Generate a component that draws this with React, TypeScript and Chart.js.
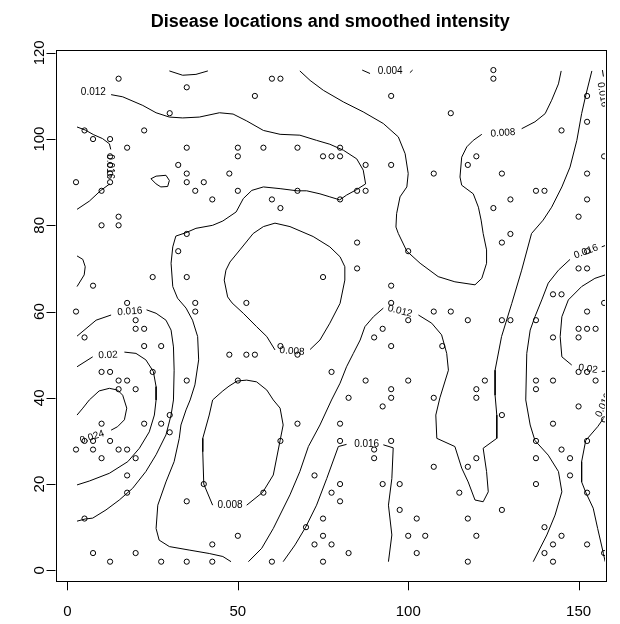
import React, { useEffect, useRef } from "react";
import { Chart, registerables } from "chart.js";
Chart.register(...registerables);

const TITLE = "Disease locations and smoothed intensity";
const X_TICKS = [0, 50, 100, 150];
const Y_TICKS = [0, 20, 40, 60, 80, 100, 120];
const X_RANGE = [-3.52, 157.76];
const Y_RANGE = [-2.55, 120.56];

// Case locations
const caseX = [
  15, 35, 30, 22.5, 5, 7.5, 12.5, 17.5, 35, 12.5, 12.5, 12.5, 12.5, 2.5, 10, 32.5, 35, 35, 40, 37.5, 42.5, 47.5, 15, 15, 10,
  60, 62.5, 55, 95, 50, 50, 57.5, 67.5, 80, 75, 77.5, 80, 87.5, 95, 50, 67.5, 60, 62.5, 80, 85, 87.5,
  125, 125, 112.5, 152.5, 152.5, 145, 157.5, 120, 117.5, 107.5, 127.5, 152.5, 137.5, 140, 130, 152.5, 125, 150,
  35, 32.5, 25, 35, 7.5, 17.5, 37.5, 37.5, 2.5, 20, 20, 22.5, 5, 22.5, 27.5, 47.5, 10, 12.5, 25, 35, 15, 17.5, 15, 20, 50,
  85, 85, 75, 52.5, 95, 95, 100, 100, 92.5, 90, 95, 62.5, 67.5, 52.5, 55, 77.5, 87.5, 100, 82.5, 95, 95,
  130, 127.5, 152.5, 150, 152.5, 142.5, 145, 157.5, 107.5, 112.5, 117.5, 127.5, 130, 137.5, 152.5, 150, 152.5, 155, 150, 142.5, 110, 150, 152.5, 122.5, 137.5, 142.5, 155, 120, 137.5, 107.5, 120,
  30, 10, 22.5, 27.5, 30, 5, 7.5, 12.5, 2.5, 7.5, 15, 17.5, 10, 20, 17.5, 17.5, 5, 35, 40, 42.5, 7.5, 20, 12.5, 27.5, 35, 42.5,
  92.5, 67.5, 80, 62.5, 80, 95, 90, 90, 72.5, 80, 92.5, 97.5, 77.5, 57.5, 80, 97.5, 102.5, 75, 50, 70, 75, 72.5, 77.5, 100, 82.5, 102.5, 60, 75,
  150, 127.5, 157.5, 142.5, 152.5, 137.5, 145, 120, 137.5, 147.5, 107.5, 117.5, 147.5, 137.5, 152.5, 115, 127.5, 117.5, 140, 105, 120, 145, 142.5, 152.5, 140, 157.5, 117.5, 142.5,
];
const caseY = [
  114, 112, 106, 102, 102, 100, 100, 98, 98, 96, 94, 92, 90, 90, 88, 94, 92, 90, 90, 88, 86, 92, 82, 80, 80,
  114, 114, 110, 110, 98, 96, 98, 98, 98, 96, 96, 96, 94, 94, 88, 88, 86, 84, 86, 88, 88,
  116, 114, 106, 110, 104, 102, 96, 96, 94, 92, 92, 92, 88, 88, 86, 86, 84, 82,
  78, 74, 68, 68, 66, 62, 62, 60, 60, 58, 56, 56, 54, 52, 52, 50, 46, 46, 46, 44, 44, 44, 42, 42, 44,
  76, 70, 68, 62, 66, 62, 74, 58, 56, 54, 52, 52, 50, 50, 50, 46, 44, 44, 40, 42, 40,
  78, 76, 74, 70, 70, 64, 64, 62, 60, 60, 58, 58, 58, 58, 60, 56, 56, 56, 54, 54, 52, 46, 46, 44, 44, 44, 44, 42, 42, 40, 40,
  36, 34, 34, 34, 32, 30, 30, 30, 28, 28, 28, 28, 26, 26, 22, 18, 12, 16, 20, 6, 4, 4, 2, 2, 2, 2,
  38, 34, 34, 30, 30, 30, 28, 26, 22, 20, 20, 20, 18, 18, 16, 14, 12, 12, 8, 10, 8, 6, 6, 8, 4, 4, 2, 2,
  38, 36, 35, 34, 30, 30, 28, 26, 26, 26, 24, 24, 22, 20, 18, 18, 14, 12, 10, 8, 8, 8, 6, 6, 4, 4, 2, 2,
];

// Contour polylines [x, y]
const c012TopLeft = [
  [12.8, 110.3], [16.2, 109.8], [22.1, 107.8], [26.0, 106.1], [29.9, 105.1], [33.8, 104.9], [38.7, 105.1], [44.6, 106.1],
  [48.6, 105.8], [52.6, 104.2], [57.5, 102.0], [62.4, 101.1], [68.2, 100.9], [73.1, 99.7], [77.0, 98.8], [81.0, 97.4],
  [84.9, 95.4], [86.8, 92.8], [87.5, 89.6], [84.9, 88.3], [81.9, 87.0], [79.9, 85.9], [77.0, 86.6], [74.1, 87.3],
  [70.2, 88.0], [67.4, 88.0], [62.4, 88.5], [57.5, 88.9], [54.1, 88.1], [51.6, 86.2], [49.5, 83.1], [45.6, 81.0],
  [42.6, 80.0], [37.7, 79.3], [34.8, 78.3], [31.8, 77.5], [30.9, 75.0], [30.4, 71.2], [30.9, 65.8], [32.3, 63.1],
  [34.8, 60.8], [36.7, 58.0], [38.2, 54.2], [38.5, 48.8], [37.4, 43.0], [36.0, 39.5], [34.8, 37.2], [33.3, 33.7],
  [32.8, 30.6], [31.3, 25.2], [28.9, 20.5], [26.5, 15.1], [26.0, 9.7], [26.9, 7.0], [29.9, 5.5], [35.7, 4.7],
  [41.6, 3.9], [45.6, 3.2], [48.0, 2.0],
];
const cTopArc = [[29.9, 115.8], [33.8, 114.8], [37.7, 115.0], [41.2, 115.8]];
const cSmallLoop = [[24.5, 90.8], [26.0, 91.4], [28.9, 91.6], [29.9, 90.4], [29.4, 89.0], [27.4, 88.9], [26.0, 89.6], [24.5, 90.8]];
const c016LeftTopA = [[2.8, 102.8], [5.2, 102.1], [7.7, 101.0], [10.3, 100.1], [12.3, 98.9], [12.7, 97.6]];
const c016LeftTopB = [[12.4, 89.6], [9.8, 88.1], [6.4, 85.6], [2.8, 83.7]];
const cLeftArc = [[2.8, 72.9], [4.5, 72.1], [5.2, 70.4], [4.9, 68.5], [2.8, 65.8]];
const c016LeftA = [[2.8, 54.3], [8.4, 58.0], [12.8, 59.2]];
const c016LeftB = [
  [23.2, 60.4], [26.0, 59.6], [28.9, 58.0], [30.4, 55.7], [31.1, 51.8], [31.3, 46.4], [31.1, 39.5], [30.4, 36.0],
  [28.9, 31.4], [26.0, 26.8], [23.0, 22.9], [19.1, 19.0], [15.2, 16.3], [11.3, 14.0], [7.4, 12.1], [5.2, 11.9], [2.8, 11.4],
];
const c020LeftA = [[2.8, 47.2], [7.4, 49.5]];
const c020LeftB = [
  [16.7, 50.6], [20.1, 50.3], [23.0, 48.8], [25.2, 46.1], [26.0, 42.6], [26.0, 39.5], [25.5, 36.0], [24.0, 32.1],
  [21.1, 28.3], [17.7, 25.2], [12.3, 22.5], [6.4, 20.7], [2.8, 19.8],
];
const c024 = [
  [2.8, 36.0], [4.5, 37.6], [6.4, 39.5], [9.3, 41.6], [12.3, 42.2], [14.7, 41.8], [16.2, 40.6], [17.4, 37.6],
  [16.7, 34.9], [14.7, 33.3], [12.8, 32.5],
];
const c008Upper = [
  [71.2, 51.2], [74.1, 53.4], [77.0, 57.3], [80.0, 61.9], [81.4, 67.3], [81.4, 70.4], [80.0, 72.7], [77.0, 75.0],
  [72.1, 77.4], [65.3, 79.7], [60.9, 80.5], [57.5, 79.7], [54.5, 78.1], [50.6, 74.3], [47.7, 71.5], [46.5, 69.6],
  [46.0, 67.3], [47.0, 63.4], [48.3, 62.0], [51.6, 59.6], [55.5, 56.5], [58.5, 54.2], [60.9, 51.1],
];
const c008Lower = [
  [52.6, 15.1], [57.3, 18.1], [60.4, 22.1], [62.4, 30.1], [63.3, 33.7], [62.4, 37.6], [60.4, 39.5], [58.5, 41.8],
  [55.5, 43.7], [52.6, 44.1], [49.8, 43.9], [47.4, 42.7], [45.6, 41.6], [42.6, 39.5], [41.6, 36.0], [39.7, 30.6],
  [39.7, 27.5], [40.0, 20.0], [42.6, 15.1],
];
const c008BigA = [
  [68.2, 115.8], [71.2, 113.6], [75.1, 111.3], [81.0, 108.6], [86.8, 106.3], [92.7, 103.6], [97.1, 100.5], [99.1, 96.6],
  [100.0, 92.0], [99.6, 88.9], [97.6, 86.6], [96.6, 82.7], [96.4, 79.6], [97.1, 78.1], [99.6, 74.0], [103.5, 71.2],
  [108.8, 68.1], [113.7, 66.9], [119.6, 66.2], [121.6, 67.7], [123.0, 71.2], [123.0, 74.3], [122.0, 78.1], [121.4, 81.2],
  [120.6, 84.2], [119.1, 87.3], [115.7, 89.3], [115.2, 91.2], [115.7, 95.8], [117.2, 98.2], [119.1, 99.7], [121.6, 101.1],
];
const c008BigB = [[133.3, 102.4], [137.2, 104.0], [140.2, 105.9], [142.1, 109.0], [144.1, 112.8], [144.9, 115.8]];
const c004A = [[86.5, 116.0], [88.8, 115.2]];
const c004B = [[100.5, 115.4], [101.3, 116.0]];
const c012MidA = [
  [153.9, 115.8], [152.1, 110.1], [150.9, 105.9], [149.5, 99.7], [147.5, 93.5], [145.1, 88.9], [142.1, 84.2], [139.6, 81.2],
  [136.2, 78.1], [133.3, 69.6], [130.4, 61.9], [127.4, 54.2], [125.5, 46.4], [125.5, 40.6], [126.0, 36.0], [126.0, 30.6],
  [122.0, 28.3], [123.0, 22.9], [123.5, 18.2], [122.0, 15.9], [119.6, 16.3], [117.6, 20.5], [115.7, 23.7], [113.7, 28.7],
  [108.4, 30.6], [108.1, 36.0], [109.3, 40.0], [111.8, 46.4], [111.3, 50.3], [109.8, 54.6], [106.9, 57.3], [103.0, 59.2],
];
const c012MidB = [
  [92.7, 60.8], [89.8, 58.8], [87.3, 56.5], [85.9, 53.4], [83.9, 50.3], [81.9, 47.2], [80.0, 43.4], [77.5, 39.5],
  [74.1, 33.7], [70.7, 28.7], [68.2, 22.9], [65.3, 17.5], [60.4, 9.7], [57.0, 5.1], [53.1, 2.0],
];
const c016MidA = [[63.3, 2.0], [66.8, 5.9], [69.9, 10.0], [73.1, 15.1], [76.1, 21.3], [79.5, 28.7], [81.9, 29.2]];
const c016MidB = [[92.7, 29.1], [95.6, 28.4], [95.2, 21.3], [94.2, 15.1], [95.2, 8.2], [94.2, 2.0]];
const c016RightA = [
  [136.7, 2.0], [140.7, 8.2], [143.1, 12.8], [145.1, 18.2], [144.1, 22.9], [141.1, 26.7], [137.2, 30.1], [135.8, 33.7],
  [134.5, 39.5], [134.8, 50.3], [135.8, 55.7], [137.2, 58.8], [139.2, 62.7], [141.1, 66.6], [144.1, 69.6], [147.5, 72.1],
];
const c016RightB = [[156.8, 75.0], [158.1, 75.4]];
const c020RightA = [
  [157.8, 68.5], [154.8, 67.7], [150.9, 65.8], [147.0, 62.7], [145.1, 58.8], [144.6, 54.2], [145.1, 49.5], [148.0, 47.6],
];
const c020RightB = [[156.8, 46.1], [158.1, 46.2]];
const c016FarRight = [
  [157.3, 35.2], [155.6, 33.3], [152.1, 30.1], [150.9, 25.2], [150.9, 20.5], [152.1, 18.1], [154.3, 14.4], [155.6, 9.7],
  [157.3, 3.9], [157.8, 2.0],
];
const c016TopRight = [[157.0, 116.0], [157.3, 114.5]];

const CONTOURS = [
  c012TopLeft, cTopArc, cSmallLoop, c016LeftTopA, c016LeftTopB, cLeftArc, c016LeftA, c016LeftB, c020LeftA, c020LeftB,
  c024, c008Upper, c008Lower, c008BigA, c008BigB, c004A, c004B, c012MidA, c012MidB, c016MidA, c016MidB,
  c016RightA, c016RightB, c020RightA, c020RightB, c016FarRight, c016TopRight,
];

const labelText = ["0.012", "0.016", "0.016", "0.02", "0.024", "0.008", "0.008", "0.008", "0.004", "0.012", "0.016", "0.016", "0.02", "0.016", "0.016"];
const labelX = [7.6, 12.5, 18.3, 11.9, 7.2, 65.9, 47.7, 127.8, 94.7, 97.6, 87.8, 152.2, 152.8, 157.3, 157.0];
const labelY = [110.9, 93.6, 60.0, 49.9, 30.9, 50.8, 15.2, 101.4, 115.7, 60.1, 29.2, 73.9, 46.7, 38.3, 110.3];
const labelRot = [0, 90, -4, -3, -18, 4, 0, -4, 0, 14, 0, -20, 8, -65, 80];

const FONT = "'Liberation Sans', Arial, Helvetica, sans-serif";

const decorPlugin = {
  id: "decor",
  beforeDraw(chart: any) {
    const ctx = chart.ctx;
    ctx.save();
    ctx.fillStyle = "#fff";
    ctx.fillRect(0, 0, chart.width, chart.height);
    ctx.restore();
  },
  afterDatasetsDraw(chart: any) {
    const ctx = chart.ctx;
    const xs = chart.scales.x;
    const ys = chart.scales.y;
    const a = chart.chartArea;
    ctx.save();
    // contour labels (clipped to the plot region)
    ctx.save();
    ctx.beginPath();
    ctx.rect(a.left, a.top, a.right - a.left, a.bottom - a.top);
    ctx.clip();
    ctx.fillStyle = "#000";
    ctx.font = `10px ${FONT}`;
    ctx.textAlign = "center";
    ctx.textBaseline = "middle";
    labelText.forEach((t, i) => {
      ctx.save();
      ctx.translate(xs.getPixelForValue(labelX[i]), ys.getPixelForValue(labelY[i]));
      ctx.rotate((labelRot[i] * Math.PI) / 180);
      ctx.fillText(t, 0, 0);
      ctx.restore();
    });
    ctx.restore();
    // box
    ctx.fillStyle = "#000";
    ctx.strokeStyle = "#000";
    ctx.lineWidth = 1;
    ctx.strokeRect(Math.round(a.left) + 0.5, Math.round(a.top) + 0.5, Math.round(a.right - a.left), Math.round(a.bottom - a.top));
    // ticks
    ctx.beginPath();
    X_TICKS.forEach((v) => {
      const px = Math.round(xs.getPixelForValue(v)) + 0.5;
      ctx.moveTo(px, a.bottom);
      ctx.lineTo(px, a.bottom + 9);
    });
    Y_TICKS.forEach((v) => {
      const py = Math.round(ys.getPixelForValue(v)) + 0.5;
      ctx.moveTo(a.left, py);
      ctx.lineTo(a.left - 9, py);
    });
    ctx.stroke();
    ctx.font = `15px ${FONT}`;
    ctx.textAlign = "center";
    ctx.textBaseline = "middle";
    X_TICKS.forEach((v) => {
      ctx.fillText(String(v), xs.getPixelForValue(v), a.bottom + 31);
    });
    Y_TICKS.forEach((v) => {
      ctx.save();
      ctx.translate(a.left - 16, ys.getPixelForValue(v));
      ctx.rotate(-Math.PI / 2);
      ctx.fillText(String(v), 0, 0);
      ctx.restore();
    });
    // title
    ctx.font = `bold 18px ${FONT}`;
    ctx.textBaseline = "alphabetic";
    ctx.fillText(TITLE, (a.left + a.right) / 2, 27);
    ctx.restore();
  },
};

export default function App() {
  const ref = useRef<HTMLCanvasElement | null>(null);
  useEffect(() => {
    if (!ref.current) return;
    const datasets: any[] = CONTOURS.map((c) => ({
      type: "scatter",
      data: c.map((p) => ({ x: p[0], y: p[1] })),
      showLine: true,
      pointRadius: 0,
      borderColor: "#000",
      borderWidth: 1,
      fill: false,
      tension: 0,
    }));
    datasets.push({
      type: "scatter",
      data: caseX.map((x, i) => ({ x, y: caseY[i] })),
      showLine: false,
      pointRadius: 2.6,
      pointBorderWidth: 1,
      borderColor: "#000",
      backgroundColor: "rgba(0,0,0,0)",
      pointStyle: "circle",
    });
    const chart = new Chart(ref.current, {
      type: "scatter",
      data: { datasets },
      options: {
        responsive: false,
        animation: false,
        devicePixelRatio: 1,
        layout: { padding: { left: 55.5, right: 15, top: 50.4, bottom: 42.7 } },
        scales: {
          x: { type: "linear", min: X_RANGE[0], max: X_RANGE[1], display: false },
          y: { type: "linear", min: Y_RANGE[0], max: Y_RANGE[1], display: false },
        },
        plugins: { legend: { display: false }, tooltip: { enabled: false }, title: { display: false } },
      },
      plugins: [decorPlugin],
    } as any);
    return () => chart.destroy();
  }, []);
  return (
    <div style={{ position: "fixed", left: 0, top: 0, width: 620, height: 624, overflow: "hidden", background: "#fff" }}>
      <canvas ref={ref} width={620} height={624} style={{ display: "block", width: 620, height: 624 }} />
    </div>
  );
}
